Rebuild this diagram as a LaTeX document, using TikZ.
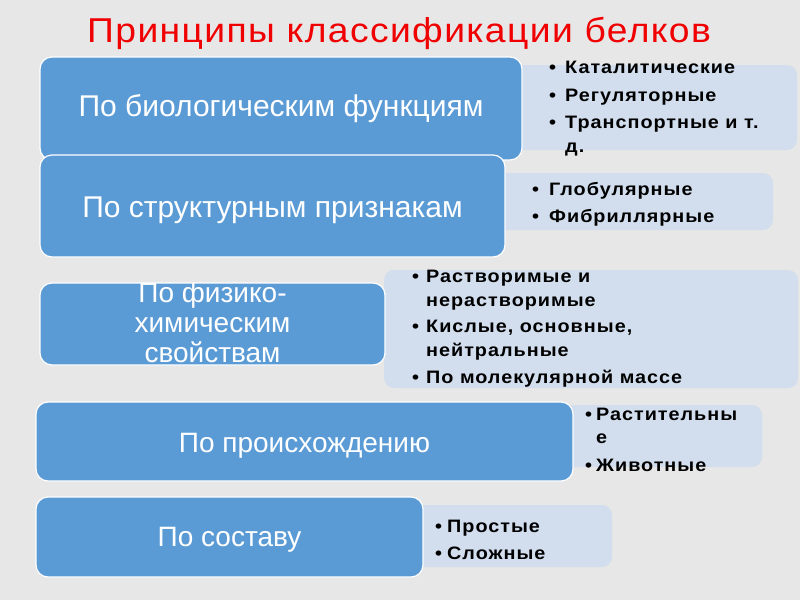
\documentclass[tikz,border=0pt]{standalone}
\usepackage{fontspec}
\setmainfont{Liberation Sans}
\newfontfamily\titlefont[FakeStretch=1.08,LetterSpace=4]{Liberation Sans}
\newfontfamily\listfont[FakeStretch=1.1,LetterSpace=5.5]{Liberation Sans}
\definecolor{bg}{HTML}{E7E7E7}
\definecolor{darkb}{HTML}{5B9BD5}
\definecolor{lightb}{HTML}{D2DEEE}
\definecolor{titlered}{HTML}{F00000}
\tikzset{
  darkbox/.style={draw=white, line width=1.2pt, fill=darkb, rounded corners=12pt},
  lightbox/.style={fill=lightb, rounded corners=10pt},
  boxtext/.style={text=white, font=\fontsize{30}{30}\selectfont, align=center, inner sep=0pt, anchor=base},
  smallboxtext/.style={boxtext, font=\fontsize{28}{30}\selectfont},
  listtext/.style={font=\listfont\bfseries\fontsize{18}{24}\selectfont, anchor=base west, inner sep=0pt, text=black}
}
\newcommand{\bl}{\textbullet}
\begin{document}
\begin{tikzpicture}[x=1pt,y=-1pt]
\fill[bg] (0,0) rectangle (800,600);
\useasboundingbox (0,0) rectangle (800,600);
\node[text=titlered, font=\titlefont\fontsize{34.5}{40}\selectfont, inner sep=0pt, anchor=base] (title) at (399,42.3) {Принципы классификации белков};
% row 1
\fill[lightbox] (500,65) rectangle (797,150);
\draw[darkbox] (40,57) rectangle (522,160);
\node[boxtext] (t1) at (281,116.5) {По биологическим функциям};
\node[listtext] (s1) at (549,73) {\begin{tabular}[t]{@{}p{16pt}@{}l@{}}\bl & Каталитические\\[4pt] \bl & Регуляторные\\[3pt] \bl & Транспортные и т.\\ & д.\end{tabular}};
% row 2
\fill[lightbox] (490,173) rectangle (773,230);
\draw[darkbox] (40,155) rectangle (505,257);
\node[boxtext] (t2) at (272.5,217) {По структурным признакам};
\node[listtext] (s2) at (532,195) {\begin{tabular}[t]{@{}p{17pt}@{}l@{}}\bl & Глобулярные\\[3pt] \bl & Фибриллярные\end{tabular}};
% row 3
\fill[lightbox] (384,270) rectangle (798,388);
\draw[darkbox] (40,283) rectangle (385,365);
\begin{scope}
\clip[rounded corners=12pt] (40,283) rectangle (385,365);
\node[smallboxtext] (t3) at (212.5,362) {По физико-\\химическим\\свойствам};
\end{scope}
\node[listtext] (s3) at (412,282) {\begin{tabular}[t]{@{}p{14pt}@{}l@{}}\bl & Растворимые и\\ & нерастворимые\\[2pt] \bl & Кислые, основные,\\ & нейтральные\\[3pt] \bl & По молекулярной массе\end{tabular}};
% row 4
\fill[lightbox] (560,405) rectangle (762,467);
\draw[darkbox] (36,402) rectangle (573,481);
\node[smallboxtext] (t4) at (304.5,452) {По происхождению};
\node[listtext] (s4) at (585,420) {\begin{tabular}[t]{@{}p{11pt}@{}l@{}}\bl & Растительны\\[-1pt] & е\\[4pt] \bl & Животные\end{tabular}};
% row 5
\fill[lightbox] (410,505) rectangle (612,567);
\draw[darkbox] (36,497) rectangle (423,577);
\node[smallboxtext] (t5) at (229.5,546) {По составу};
\node[listtext] (s5) at (435,532) {\begin{tabular}[t]{@{}p{12pt}@{}l@{}}\bl & Простые\\[3pt] \bl & Сложные\end{tabular}};
\end{tikzpicture}
\end{document}
